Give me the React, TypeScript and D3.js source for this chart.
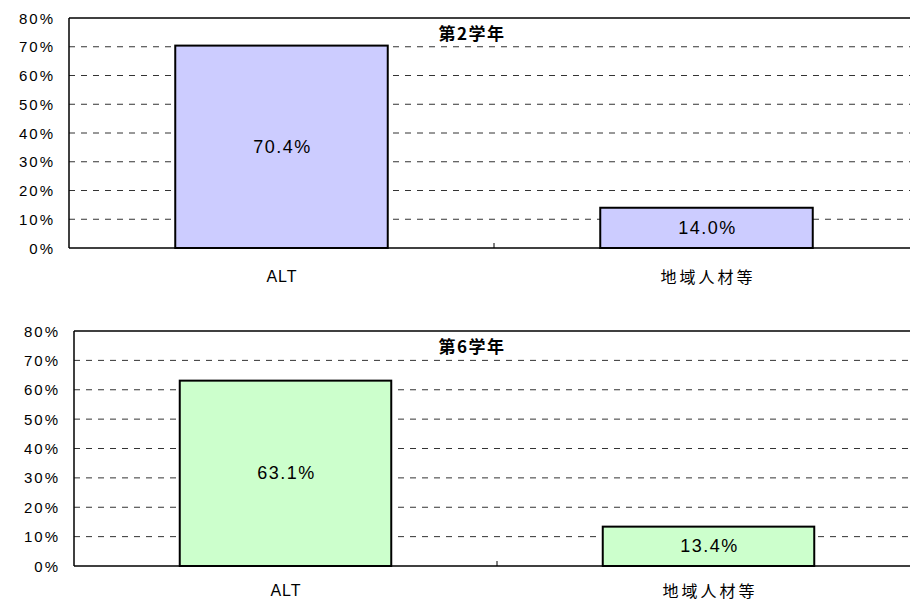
import React from "react";
import * as d3 from "d3";

const categories = ["ALT", "地域人材等"];
const grade2Values = [70.4, 14.0];
const grade6Values = [63.1, 13.4];
const yTicks = [0, 10, 20, 30, 40, 50, 60, 70, 80];
const titles = ["第2学年", "第6学年"];

const FONT = "'Liberation Sans', 'Noto Sans CJK JP', sans-serif";
const JFONT = "'Noto Sans CJK JP', 'Liberation Sans', sans-serif";

type PanelProps = {
  values: number[];
  title: string;
  left: number;
  right: number;
  top: number;
  bottom: number;
  fill: string;
  labelX: number;
  catY: number;
};

function Panel({ values, title, left, right, top, bottom, fill, labelX, catY }: PanelProps) {
  const y = d3.scaleLinear().domain([0, 80]).range([bottom, top]);
  const x = d3.scaleBand().domain(categories).range([left, right]).paddingInner(0.5).paddingOuter(0.25);
  const xc = d3.scaleBand().domain(categories).range([left, right]);
  return (
    <g>
      {yTicks.filter((t) => t > 0 && t < 80).map((t) => (
        <line key={t} x1={left} x2={910} y1={y(t)} y2={y(t)} stroke="#333" strokeWidth={1} strokeDasharray="6,6" />
      ))}
      <line x1={left} x2={910} y1={y(80)} y2={y(80)} stroke="#000" strokeWidth={1.5} />
      {values.map((v, i) => (
        <g key={i}>
          <rect x={x(categories[i])!} y={y(v)} width={x.bandwidth()} height={y(0) - y(v)} fill={fill} stroke="#000" strokeWidth={2} />
          <text x={x(categories[i])! + x.bandwidth() / 2 + 1} y={(y(v) + y(0)) / 2} textAnchor="middle" dominantBaseline="central" fontSize={18} letterSpacing={1.5} fontFamily={FONT}>
            {v.toFixed(1)}%
          </text>
        </g>
      ))}
      <line x1={left} x2={left} y1={top} y2={bottom} stroke="#000" strokeWidth={1.5} />
      <line x1={left} x2={910} y1={bottom} y2={bottom} stroke="#000" strokeWidth={1.5} />
      <line x1={xc(categories[1])!} x2={xc(categories[1])!} y1={bottom - 5} y2={bottom} stroke="#000" strokeWidth={1} />
      {yTicks.map((t) => (
        <text key={t} x={labelX + 2} y={y(t)} textAnchor="end" dominantBaseline="central" fontSize={15} letterSpacing={2} fontFamily={FONT}>
          {t}%
        </text>
      ))}
      {categories.map((c, i) => (
        <text key={c} x={xc(c)! + xc.bandwidth() / 2 + (i === 0 ? 0.5 : 1.5)} y={catY} textAnchor="middle" dominantBaseline="central" fontSize={16} letterSpacing={i === 0 ? 1 : 3} fontFamily={i === 0 ? FONT : JFONT}>
          {c}
        </text>
      ))}
      <text x={472} y={top + 14} textAnchor="middle" dominantBaseline="central" fontSize={17} fontWeight="bold" letterSpacing={1.5} fontFamily={JFONT}>
        {title}
      </text>
    </g>
  );
}

export default function App() {
  return (
    <svg width={910} height={601} style={{ position: "absolute", left: 0, top: 0, background: "#fff" }}>
      <rect width={910} height={601} fill="#fff" />
      <Panel values={grade2Values} title={titles[0]} left={69} right={919} top={18} bottom={248} fill="#CCCCFF" labelX={53} catY={276} />
      <Panel values={grade6Values} title={titles[1]} left={74} right={920} top={331} bottom={566} fill="#CCFFCC" labelX={58} catY={590} />
    </svg>
  );
}
